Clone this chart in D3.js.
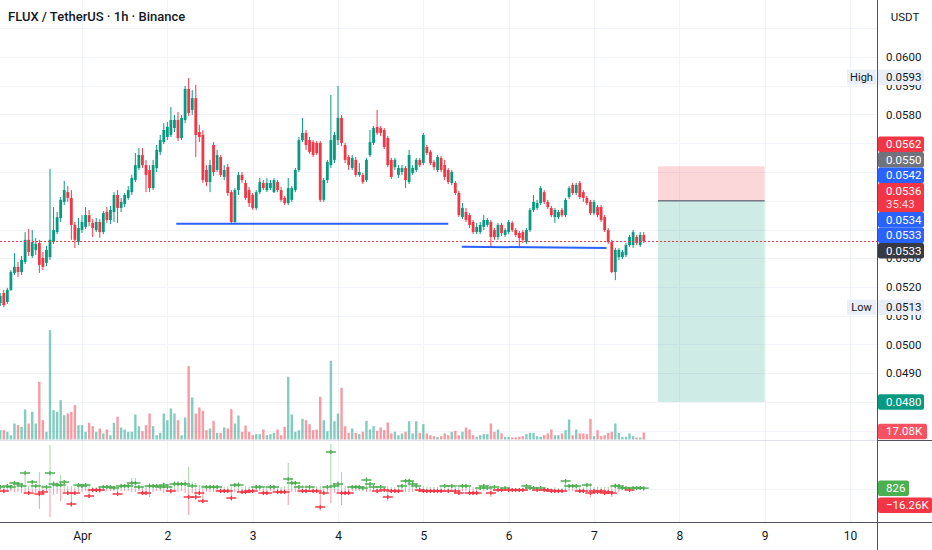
<!DOCTYPE html>
<html>
<head>
<meta charset="utf-8">
<script src="https://cdn.jsdelivr.net/npm/d3@7"></script>
<style>
  body { margin: 0; background: #fff; }
  svg { display: block; font-family: Roboto, "Liberation Sans", sans-serif; }
</style>
</head>
<body>
<script>
// FLUX / USDT, 1h bars from Mar 31 01:00 to Apr 7 14:00
const firstBar = Date.UTC(2024, 2, 31, 1);

const open = [
  0.05144,0.05179,0.05148,0.05190,0.05249,0.05270,0.05252,0.05287,0.05364,0.05308,
  0.05329,0.05353,0.05301,0.05284,0.05304,0.05357,0.05391,0.05440,0.05496,0.05530,
  0.05510,0.05416,0.05357,0.05398,0.05409,0.05450,0.05423,0.05398,0.05426,0.05391,
  0.05461,0.05433,0.05461,0.05520,0.05475,0.05489,0.05510,0.05530,0.05572,0.05614,
  0.05659,0.05624,0.05607,0.05544,0.05614,0.05670,0.05704,0.05722,0.05729,0.05753,
  0.05781,0.05718,0.05781,0.05889,0.05816,0.05857,0.05739,0.05729,0.05607,0.05565,
  0.05694,0.05607,0.05652,0.05583,0.05617,0.05530,0.05426,0.05537,0.05590,0.05562,
  0.05537,0.05520,0.05475,0.05530,0.05562,0.05537,0.05544,0.05530,0.05565,0.05537,
  0.05510,0.05492,0.05503,0.05537,0.05607,0.05711,0.05736,0.05711,0.05704,0.05701,
  0.05701,0.05503,0.05572,0.05624,0.05642,0.05711,0.05788,0.05694,0.05652,0.05614,
  0.05642,0.05590,0.05590,0.05572,0.05659,0.05701,0.05757,0.05753,0.05746,0.05718,
  0.05642,0.05617,0.05590,0.05600,0.05614,0.05565,0.05597,0.05607,0.05642,0.05631,
  0.05687,0.05670,0.05635,0.05607,0.05649,0.05624,0.05607,0.05562,0.05562,0.05527,
  0.05443,0.05461,0.05450,0.05426,0.05391,0.05391,0.05409,0.05416,0.05426,0.05398,
  0.05374,0.05416,0.05381,0.05391,0.05423,0.05398,0.05388,0.05391,0.05357,0.05398,
  0.05468,0.05475,0.05492,0.05530,0.05496,0.05475,0.05443,0.05443,0.05468,0.05450,
  0.05513,0.05555,0.05527,0.05562,0.05530,0.05510,0.05496,0.05457,0.05478,0.05478,
  0.05443,0.05398,0.05356,0.05252,0.05304,0.05304,0.05311,0.05346,0.05346,0.05374,
  0.05346,0.05381
];
const high = [
  0.05179,0.05190,0.05197,0.05259,0.05318,0.05287,0.05308,0.05391,0.05402,0.05398,
  0.05370,0.05364,0.05322,0.05343,0.05611,0.05478,0.05461,0.05513,0.05569,0.05551,
  0.05537,0.05426,0.05440,0.05450,0.05478,0.05468,0.05436,0.05440,0.05436,0.05464,
  0.05478,0.05482,0.05530,0.05537,0.05510,0.05527,0.05551,0.05590,0.05666,0.05683,
  0.05683,0.05642,0.05624,0.05642,0.05694,0.05729,0.05770,0.05774,0.05826,0.05798,
  0.05809,0.05798,0.05899,0.05927,0.05885,0.05903,0.05764,0.05746,0.05624,0.05642,
  0.05704,0.05677,0.05659,0.05624,0.05628,0.05537,0.05544,0.05600,0.05600,0.05572,
  0.05548,0.05527,0.05537,0.05579,0.05572,0.05579,0.05572,0.05579,0.05572,0.05548,
  0.05517,0.05579,0.05551,0.05614,0.05722,0.05788,0.05746,0.05722,0.05711,0.05708,
  0.05708,0.05579,0.05642,0.05868,0.05739,0.05899,0.05798,0.05701,0.05659,0.05659,
  0.05652,0.05631,0.05597,0.05649,0.05746,0.05760,0.05816,0.05760,0.05753,0.05725,
  0.05649,0.05649,0.05624,0.05624,0.05621,0.05677,0.05624,0.05649,0.05649,0.05736,
  0.05694,0.05677,0.05642,0.05659,0.05656,0.05642,0.05614,0.05607,0.05569,0.05534,
  0.05492,0.05475,0.05457,0.05433,0.05423,0.05426,0.05450,0.05440,0.05433,0.05405,
  0.05423,0.05423,0.05405,0.05433,0.05429,0.05405,0.05395,0.05398,0.05405,0.05475,
  0.05520,0.05503,0.05551,0.05537,0.05503,0.05482,0.05475,0.05468,0.05475,0.05510,
  0.05551,0.05562,0.05562,0.05569,0.05537,0.05517,0.05503,0.05503,0.05485,0.05485,
  0.05450,0.05405,0.05364,0.05336,0.05336,0.05329,0.05353,0.05381,0.05398,0.05381,
  0.05391,0.05391
];
const low = [
  0.05134,0.05130,0.05141,0.05186,0.05242,0.05235,0.05242,0.05280,0.05308,0.05301,
  0.05311,0.05249,0.05259,0.05273,0.05294,0.05350,0.05384,0.05426,0.05485,0.05496,
  0.05364,0.05336,0.05346,0.05388,0.05402,0.05412,0.05374,0.05391,0.05371,0.05384,
  0.05423,0.05419,0.05426,0.05423,0.05461,0.05478,0.05503,0.05520,0.05565,0.05607,
  0.05614,0.05530,0.05530,0.05537,0.05600,0.05659,0.05697,0.05711,0.05722,0.05739,
  0.05708,0.05711,0.05770,0.05795,0.05798,0.05652,0.05704,0.05562,0.05551,0.05530,
  0.05586,0.05600,0.05583,0.05572,0.05517,0.05419,0.05419,0.05520,0.05562,0.05503,
  0.05478,0.05468,0.05468,0.05523,0.05537,0.05530,0.05537,0.05527,0.05530,0.05496,
  0.05485,0.05485,0.05496,0.05530,0.05600,0.05704,0.05677,0.05663,0.05652,0.05659,
  0.05496,0.05496,0.05562,0.05614,0.05631,0.05694,0.05690,0.05631,0.05607,0.05607,
  0.05583,0.05583,0.05558,0.05565,0.05652,0.05694,0.05729,0.05725,0.05680,0.05617,
  0.05576,0.05607,0.05579,0.05590,0.05544,0.05558,0.05590,0.05600,0.05617,0.05624,
  0.05659,0.05624,0.05607,0.05600,0.05600,0.05572,0.05558,0.05555,0.05520,0.05443,
  0.05436,0.05426,0.05405,0.05384,0.05384,0.05384,0.05398,0.05409,0.05339,0.05364,
  0.05364,0.05377,0.05374,0.05384,0.05391,0.05374,0.05339,0.05353,0.05350,0.05391,
  0.05461,0.05468,0.05485,0.05489,0.05471,0.05443,0.05423,0.05436,0.05443,0.05443,
  0.05506,0.05520,0.05520,0.05506,0.05496,0.05485,0.05450,0.05450,0.05443,0.05426,
  0.05391,0.05350,0.05249,0.05224,0.05294,0.05297,0.05304,0.05339,0.05336,0.05346,
  0.05339,0.05353
];
const close = [
  0.05169,0.05137,0.05190,0.05252,0.05270,0.05252,0.05294,0.05364,0.05322,0.05356,
  0.05350,0.05277,0.05270,0.05329,0.05364,0.05398,0.05443,0.05503,0.05537,0.05510,
  0.05416,0.05364,0.05405,0.05426,0.05450,0.05426,0.05405,0.05426,0.05391,0.05457,
  0.05433,0.05468,0.05520,0.05475,0.05496,0.05520,0.05537,0.05579,0.05624,0.05659,
  0.05624,0.05590,0.05544,0.05624,0.05677,0.05711,0.05746,0.05757,0.05781,0.05781,
  0.05718,0.05788,0.05889,0.05805,0.05857,0.05729,0.05722,0.05572,0.05565,0.05624,
  0.05600,0.05659,0.05590,0.05607,0.05527,0.05426,0.05537,0.05590,0.05572,0.05510,
  0.05492,0.05475,0.05530,0.05565,0.05544,0.05562,0.05562,0.05572,0.05537,0.05503,
  0.05492,0.05544,0.05544,0.05607,0.05711,0.05736,0.05694,0.05670,0.05659,0.05666,
  0.05503,0.05572,0.05635,0.05711,0.05729,0.05788,0.05701,0.05642,0.05624,0.05649,
  0.05590,0.05600,0.05565,0.05642,0.05704,0.05753,0.05736,0.05736,0.05687,0.05624,
  0.05583,0.05642,0.05614,0.05614,0.05572,0.05659,0.05614,0.05642,0.05624,0.05729,
  0.05666,0.05631,0.05617,0.05652,0.05607,0.05583,0.05565,0.05600,0.05527,0.05450,
  0.05475,0.05433,0.05416,0.05391,0.05409,0.05416,0.05433,0.05433,0.05374,0.05374,
  0.05416,0.05388,0.05398,0.05426,0.05398,0.05381,0.05370,0.05364,0.05398,0.05468,
  0.05496,0.05492,0.05544,0.05496,0.05478,0.05450,0.05468,0.05461,0.05450,0.05503,
  0.05544,0.05527,0.05555,0.05513,0.05510,0.05492,0.05457,0.05496,0.05450,0.05433,
  0.05398,0.05356,0.05252,0.05329,0.05329,0.05322,0.05346,0.05374,0.05391,0.05353,
  0.05381,0.05360
];
// volume in thousands of FLUX
const volumeK = [
  22.7,22.7,18.7,10.5,38.9,34.9,30.8,73.0,38.9,67.3,38.9,140.3,47.0,18.7,266,71.4,67.3,95.7,59.2,63.3,
  67.3,83.5,34.9,34.9,18.7,40.6,32.4,18.7,26.8,14.6,24.3,10.5,40.6,55.1,29.2,24.3,18.7,18.7,60.8,32.4,
  20.3,34.9,63.3,32.4,10.5,16.2,63.3,47.0,75.4,63.3,47.0,10.5,53.5,178.4,102.2,63.3,77.9,69.7,22.7,26.8,
  45.4,16.2,16.2,29.2,26.8,73.8,38.9,58.4,18.7,34.1,18.7,10.5,13.0,13.0,24.3,10.5,13.0,16.2,24.3,10.5,
  30.8,152.5,60.8,18.7,22.7,50.3,47.0,37.3,22.7,24.3,103.8,47.0,20.0,191.4,44.6,63.3,125.7,32.4,16.2,26.8,
  16.2,13.0,18.7,45.4,24.3,32.4,21.1,29.2,22.7,41.4,14.6,18.7,10.5,14.6,18.7,44.6,14.6,44.6,16.2,37.3,
  14.6,10.5,8.1,6.5,8.1,14.6,10.5,18.7,21.1,10.5,18.7,29.2,24.3,10.5,6.5,10.5,13.0,13.0,38.9,18.7,
  24.3,14.6,6.5,6.5,4.9,4.9,6.5,8.1,13.0,16.2,16.2,8.1,6.5,10.5,14.6,24.3,10.5,10.5,14.6,22.7,
  48.7,10.5,24.3,14.6,14.6,13.0,50.3,8.1,22.7,8.1,10.5,16.2,18.7,38.9,16.2,6.5,6.5,14.6,8.1,4.9,
  4.9,17.08
];
// volume delta per bar (thousands): intrabar high, intrabar low, close
const deltaHigh = [
  4,3,5,4,8,7,5,18,3,9,5,17,4,4,44,8,7,14,9,3,
  3,2,6,5,6,3,2,2,3,4,4,4,3,3,5,5,5,11,11,4,
  3,3,6,5,5,4,7,5,3,8,8,7,9,22,7,6,4,4,4,4,
  4,4,2,2,3,4,6,7,2,3,2,2,4,3,2,2,3,3,2,2,
  3,26,10,8,4,4,4,4,3,3,3,3,4,45,6,8,17,3,3,4,
  4,4,3,12,7,4,3,4,2,3,2,2,3,5,10,10,8,5,2,3,
  2,2,2,2,2,5,2,5,2,2,5,5,2,2,2,2,5,2,3,4,
  1,1,2,1,1,1,1,1,5,2,2,1,2,1,1,1,2,1,1,10,
  5,5,5,2,2,6,6,2,2,2,2,2,3,6,5,2,2,1,2,2,
  2,2
];
const deltaLow = [
  -3,-4,-2,-2,-3,-3,-4,-5,-6,-3,-4,-20,-6,-3,-28,-6,-5,-12,-3,-6,
  -18,-6,-3,-3,-2,-9,-3,-3,-4,-2,-2,-2,-2,-7,-2,-2,-2,-3,-3,-2,
  -6,-6,-8,-3,-2,-2,-4,-3,-5,-3,-3,-2,-4,-26,-4,-11,-6,-14,-3,-3,
  -3,-2,-4,-4,-4,-12,-3,-3,-5,-5,-4,-4,-2,-2,-6,-6,-2,-2,-5,-5,
  -5,-16,-3,-3,-3,-4,-4,-3,-4,-4,-22,-6,-3,-14,-4,-3,-16,-6,-6,-2,
  -2,-2,-2,-3,-3,-2,-4,-2,-3,-12,-4,-4,-4,-2,-3,-3,-3,-2,-3,-4,
  -4,-4,-4,-4,-4,-2,-4,-2,-4,-6,-2,-2,-6,-6,-6,-1,-2,-1,-8,-2,
  -2,-2,-1,-2,-2,-2,-2,-2,-2,-1,-1,-2,-1,-2,-2,-4,-4,-4,-4,-3,
  -2,-2,-2,-4,-4,-3,-8,-4,-5,-4,-6,-5,-8,-3,-3,-1,-1,-2,-1,-1,
  -1,-2
];
const deltaClose = [
  2,-2,3,2,6,5,3,16,-4,7,3,-5,-3,2,16,5,4,4,7,-4,
  -15,-4,4,3,4,-7,-1,-1,-1,2,2,2,1,-5,3,3,3,6,6,2,
  -4,-4,3,3,3,2,4,2,-2,5,5,5,5,-8,3,-8,-4,-12,2,2,
  2,2,-2,-2,-2,-9,4,4,-3,-3,-2,-2,2,2,-4,-4,2,2,-3,-3,
  -3,10,6,6,2,-2,-2,2,-2,-2,-18,-4,2,37,3,5,-4,-4,-4,2,
  2,2,1,9,5,2,-2,2,-1,-8,-2,-2,-2,3,8,8,5,3,-1,-2,
  -2,-2,-2,-2,-2,3,-2,3,-2,-4,3,3,-4,-4,-4,1,3,1,-4,2,
  -1,-1,1,-1,-1,-1,-1,-1,3,1,1,-1,1,-1,-1,-2,-2,-2,-2,8,
  3,3,3,-2,-2,4,-4,-2,-3,-2,-4,-3,-4,3,3,1,1,-1,1,1,
  1,0.826
];

// grid and axis ticks (labels hidden under the tags are left out)
const gridPrices = [0.061,0.060,0.059,0.058,0.057,0.056,0.055,0.054,0.053,0.052,0.051,0.050,0.049,0.048,0.047];
const axisPrices = [0.060,0.059,0.058,0.053,0.052,0.051,0.050,0.049];
const dayTicks = d3.utcDays(new Date(Date.UTC(2024, 3, 1)), new Date(Date.UTC(2024, 3, 11)));

// drawings
const supportLines = [
  { t1: Date.UTC(2024, 3, 2, 2, 30), t2: Date.UTC(2024, 3, 5, 7, 0), p1: 0.0542, p2: 0.0542 },
  { t1: Date.UTC(2024, 3, 5, 10, 50), t2: Date.UTC(2024, 3, 7, 3, 30), p1: 0.05340, p2: 0.05336 }
];
const position = { t1: Date.UTC(2024, 3, 7, 18), t2: Date.UTC(2024, 3, 9, 0), stop: 0.0562, entry: 0.0550, target: 0.0480 };
const lastPrice = 0.0536;
const dayHigh = 0.0593, dayLow = 0.0513;

const up = "#089981", down = "#f23645";
const W = 932, H = 550, plotW = 877, plotH = 522;

const x = d3.scaleUtc()
  .domain([new Date(Date.UTC(2024, 2, 31, 0, 56)), new Date(Date.UTC(2024, 3, 10, 7, 36))])
  .range([0, plotW]);
const y = d3.scaleLinear().domain([0.048, 0.060]).range([402, 57]);
const yVol = d3.scaleLinear().domain([0, 270]).range([439.5, 328.5]);
const yDelta = d3.scaleLinear().domain([-20, 20]).range([509, 469]);

const bars = close.map((c, i) => ({
  t: new Date(firstBar + i * 3600e3),
  o: open[i], h: high[i], l: low[i], c: c,
  v: volumeK[i], dh: deltaHigh[i], dl: deltaLow[i], dc: deltaClose[i]
}));

const svg = d3.select("body").append("svg")
  .attr("width", W)
  .attr("height", H);

svg.append("defs").append("clipPath").attr("id", "plot")
  .append("rect").attr("width", plotW).attr("height", plotH);

const plot = svg.append("g").attr("clip-path", "url(#plot)");
const crisp = v => Math.round(v) + 0.5;

// grid
plot.append("g").selectAll("line").data(gridPrices).join("line")
  .attr("x1", 0).attr("x2", plotW)
  .attr("y1", d => crisp(y(d))).attr("y2", d => crisp(y(d)))
  .attr("stroke", "#f0f3fa");
plot.append("g").selectAll("line").data(dayTicks).join("line")
  .attr("x1", d => crisp(x(d))).attr("x2", d => crisp(x(d)))
  .attr("y1", 0).attr("y2", plotH)
  .attr("stroke", "#f0f3fa");
plot.append("line")
  .attr("x1", 0).attr("x2", plotW)
  .attr("y1", crisp(yDelta(0))).attr("y2", crisp(yDelta(0)))
  .attr("stroke", "#f0f3fa");
plot.append("line")
  .attr("x1", 0).attr("x2", plotW).attr("y1", 440.5).attr("y2", 440.5)
  .attr("stroke", "#e0e3eb");

// volume
plot.append("g").selectAll("rect").data(bars).join("rect")
  .attr("x", d => x(d.t) - 1.2)
  .attr("width", 2.4)
  .attr("y", d => yVol(d.v))
  .attr("height", d => yVol(0) - yVol(d.v))
  .attr("fill", d => d.c >= d.o ? "rgba(8,153,129,0.5)" : "rgba(242,54,69,0.5)");

// position box
plot.append("rect")
  .attr("x", x(position.t1)).attr("width", x(position.t2) - x(position.t1))
  .attr("y", y(position.stop)).attr("height", y(position.entry) - y(position.stop))
  .attr("fill", "rgba(242,54,69,0.2)");
plot.append("rect")
  .attr("x", x(position.t1)).attr("width", x(position.t2) - x(position.t1))
  .attr("y", y(position.entry)).attr("height", y(position.target) - y(position.entry))
  .attr("fill", "rgba(8,153,129,0.2)");
plot.append("line")
  .attr("x1", x(position.t1)).attr("x2", x(position.t2))
  .attr("y1", y(position.entry)).attr("y2", y(position.entry))
  .attr("stroke", "#787b86").attr("stroke-width", 1.5);

// candles
const candles = plot.append("g").selectAll("g").data(bars).join("g");
candles.append("line")
  .attr("x1", d => x(d.t)).attr("x2", d => x(d.t))
  .attr("y1", d => y(d.h)).attr("y2", d => y(d.l))
  .attr("stroke", d => d.c >= d.o ? up : down)
  .attr("stroke-width", 1);
candles.append("rect")
  .attr("x", d => x(d.t) - 1.4)
  .attr("width", 2.8)
  .attr("y", d => y(Math.max(d.o, d.c)))
  .attr("height", d => Math.max(1, Math.abs(y(d.o) - y(d.c))))
  .attr("fill", d => d.c >= d.o ? up : down);

// support lines
plot.append("g").selectAll("line").data(supportLines).join("line")
  .attr("x1", d => x(d.t1)).attr("x2", d => x(d.t2))
  .attr("y1", d => y(d.p1)).attr("y2", d => y(d.p2))
  .attr("stroke", "#2962ff").attr("stroke-width", 2);

// volume delta pane: buy side up in green, sell side down in red, cross at the close
const delta = plot.append("g").selectAll("g").data(bars).join("g");
delta.append("line")
  .attr("x1", d => x(d.t)).attr("x2", d => x(d.t))
  .attr("y1", yDelta(0)).attr("y2", d => yDelta(d.dh))
  .attr("stroke", "rgba(76,175,80,0.5)");
delta.append("line")
  .attr("x1", d => x(d.t)).attr("x2", d => x(d.t))
  .attr("y1", yDelta(0)).attr("y2", d => yDelta(d.dl))
  .attr("stroke", "rgba(242,54,69,0.5)");
delta.append("path")
  .attr("d", d => {
    const cx = x(d.t), cy = yDelta(d.dc);
    return `M${cx - 5},${cy}H${cx + 5}M${cx},${cy - 2}V${cy + 2}`;
  })
  .attr("stroke", d => d.dc >= 0 ? "#4caf50" : "#f23645")
  .attr("stroke-width", 1.3)
  .attr("fill", "none");

// last price line
plot.append("line")
  .attr("x1", 0).attr("x2", plotW)
  .attr("y1", crisp(y(lastPrice))).attr("y2", crisp(y(lastPrice)))
  .attr("stroke", down).attr("stroke-width", 1).attr("stroke-dasharray", "2,2");

// title
svg.append("text")
  .attr("x", 8).attr("y", 21)
  .attr("font-size", 13).attr("font-weight", 500)
  .attr("fill", "#131722")
  .text("FLUX / TetherUS · 1h · Binance");

// price scale
svg.append("rect").attr("x", plotW).attr("y", 0).attr("width", W - plotW).attr("height", H).attr("fill", "#fff");
const yAxis = svg.append("g")
  .attr("transform", `translate(${plotW},0)`)
  .call(d3.axisRight(y).tickValues(axisPrices).tickFormat(d3.format(".4f")).tickSize(0).tickPadding(9));
yAxis.select(".domain").remove();
yAxis.selectAll("text").attr("font-size", 11.5).attr("fill", "#131722").attr("font-family", "Roboto, sans-serif");

svg.append("text")
  .attr("x", 905).attr("y", 21).attr("text-anchor", "middle")
  .attr("font-size", 11.5).attr("fill", "#131722")
  .text("USDT");

// scale labels
function tag(yc, text, bg, fg, w) {
  const g = svg.append("g");
  g.append("rect").attr("x", plotW + 1).attr("y", yc - 7.75).attr("width", w || 46).attr("height", 15.5)
    .attr("rx", 2).attr("fill", bg);
  g.append("text").attr("x", 886).attr("y", yc + 4).attr("font-size", 11.5).attr("fill", fg).text(text);
}

// high / low
[[dayHigh, "High"], [dayLow, "Low"]].forEach(([p, name]) => {
  const yc = y(p);
  svg.append("rect").attr("x", 847).attr("y", yc - 7.5).attr("width", 29).attr("height", 15).attr("fill", "#e9eef8");
  svg.append("text").attr("x", 861.5).attr("y", yc + 4).attr("text-anchor", "middle")
    .attr("font-size", 11).attr("fill", "#131722").text(name);
  tag(yc, d3.format(".4f")(p), "#e9eef8", "#131722");
});

// stacked labels near the last price
const stack = [
  { text: ["0.0562"], bg: down },
  { text: ["0.0550"], bg: "#70737d" },
  { text: ["0.0542"], bg: "#2962ff" },
  { text: ["0.0536", "35:43"], bg: down },
  { text: ["0.0534"], bg: "#2962ff" },
  { text: ["0.0533"], bg: "#2962ff" },
  { text: ["0.0533"], bg: "#363a45" }
];
let stackTop = 136.5;
stack.forEach(s => {
  const h = s.text.length === 2 ? 29 : 15.5;
  svg.append("rect").attr("x", plotW + 1).attr("y", stackTop).attr("width", 46).attr("height", h).attr("rx", 2).attr("fill", s.bg);
  s.text.forEach((t, k) => {
    svg.append("text").attr("x", 886).attr("y", stackTop + 11.5 + k * 13)
      .attr("font-size", 11.5)
      .attr("fill", k === 0 ? "#fff" : "rgba(255,255,255,0.8)")
      .text(t);
  });
  stackTop += h;
});

tag(y(position.target), d3.format(".4f")(position.target), up, "#fff");
tag(yVol(volumeK[volumeK.length - 1]) - 1, "17.08K", "#f7525f", "#fff", 49);
tag(yDelta(deltaClose[deltaClose.length - 1]), "826", "#4caf50", "#fff", 31);
tag(yDelta(-16.26), "\u221216.26K", down, "#fff", 54);

// time axis
svg.append("rect").attr("x", 0).attr("y", plotH).attr("width", W).attr("height", H - plotH).attr("fill", "#fff");
const xAxis = svg.append("g")
  .attr("transform", `translate(0,${plotH})`)
  .call(d3.axisBottom(x).tickValues(dayTicks)
    .tickFormat(d => d.getUTCDate() === 1 ? d3.utcFormat("%b")(d) : d.getUTCDate())
    .tickSize(0).tickPadding(9));
xAxis.select(".domain").remove();
xAxis.selectAll("text").attr("font-size", 12).attr("fill", "#131722").attr("font-family", "Roboto, sans-serif");

// borders
svg.append("line").attr("x1", 0).attr("x2", W).attr("y1", plotH + 0.5).attr("y2", plotH + 0.5).attr("stroke", "#50535e");
svg.append("line").attr("x1", plotW + 0.5).attr("x2", plotW + 0.5).attr("y1", 0).attr("y2", H).attr("stroke", "#50535e");
svg.append("line").attr("x1", plotW).attr("x2", W).attr("y1", 440.5).attr("y2", 440.5).attr("stroke", "#50535e");
</script>
</body>
</html>
